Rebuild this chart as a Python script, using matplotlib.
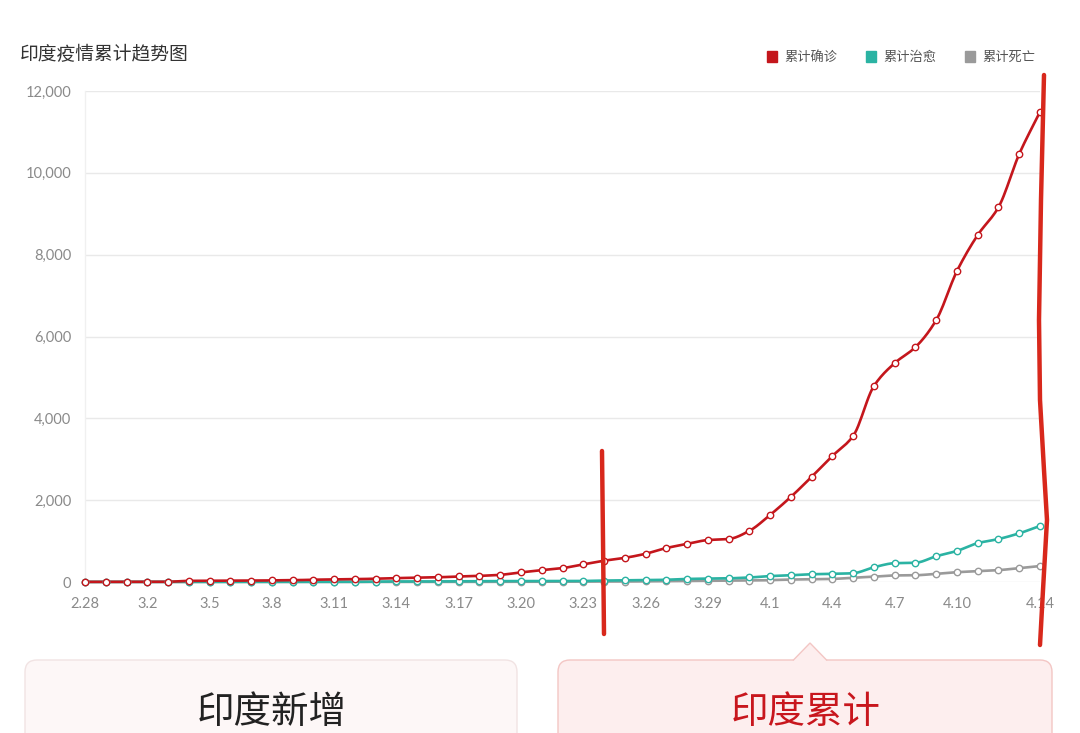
import matplotlib
matplotlib.use("Agg")
import matplotlib.pyplot as plt
import numpy as np
from matplotlib.patches import FancyBboxPatch, Polygon, Rectangle
from matplotlib.lines import Line2D

plt.rcParams['font.family'] = ['Noto Sans CJK SC', 'DejaVu Sans']

# ---------------- data ----------------
dates = ["2.28", "2.29"] + [f"3.{d}" for d in range(1, 32)] + [f"4.{d}" for d in range(1, 15)]

confirmed = [3, 3, 3, 5, 6, 28, 30, 31, 34, 39, 43, 56, 62, 70, 80, 95, 105, 115,
             135, 150, 175, 235, 290, 340, 430, 520, 590, 690, 830, 930, 1025, 1050,
             1250, 1640, 2080, 2570, 3080, 3570, 4790, 5350, 5740, 6400, 7600, 8480,
             9160, 10460, 11490]
recovered = [3, 3, 3, 3, 3, 3, 3, 3, 3, 4, 4, 4, 4, 4, 10, 13, 13, 14, 15, 20, 20,
             23, 23, 24, 25, 35, 40, 45, 55, 75, 80, 90, 110, 145, 165, 190, 200, 215,
             360, 460, 470, 630, 760, 950, 1050, 1190, 1370]
deaths = [0, 0, 0, 0, 0, 0, 0, 0, 0, 0, 0, 0, 1, 2, 2, 2, 2, 3, 3, 4, 4, 4, 7, 8,
          10, 10, 11, 16, 20, 24, 27, 32, 35, 45, 60, 66, 75, 105, 130, 160, 165,
          200, 240, 265, 290, 340, 390]

series_names = ["累计确诊", "累计治愈", "累计死亡"]
series_colors = ["#c4161c", "#2bb3a3", "#9a9a9a"]
series_values = [confirmed, recovered, deaths]

y_ticks = [0, 2000, 4000, 6000, 8000, 10000, 12000]
x_tick_idx = list(range(0, len(dates) - 4, 3)) + [len(dates) - 1]

title = "印度疫情累计趋势图"
card_left = "印度新增"
card_right = "印度累计"

# ---------------- helpers ----------------
def smooth_path(xs, ys, n=12):
    """Monotone cubic (Fritsch-Carlson) curve through the points, for drawing."""
    xs = np.asarray(xs, float)
    ys = np.asarray(ys, float)
    h = np.diff(xs)
    d = np.diff(ys) / h
    m = np.zeros_like(ys)
    m[0], m[-1] = d[0], d[-1]
    for i in range(1, len(ys) - 1):
        if d[i - 1] * d[i] <= 0:
            m[i] = 0
        else:
            m[i] = 2 / (1 / d[i - 1] + 1 / d[i])
    px, py = [], []
    for i in range(len(xs) - 1):
        t = np.linspace(0, 1, n, endpoint=False)
        h00 = 2 * t**3 - 3 * t**2 + 1
        h10 = t**3 - 2 * t**2 + t
        h01 = -2 * t**3 + 3 * t**2
        h11 = t**3 - t**2
        px.extend(xs[i] + t * h[i])
        py.extend(h00 * ys[i] + h10 * h[i] * m[i] + h01 * ys[i + 1] + h11 * h[i] * m[i + 1])
    px.append(xs[-1])
    py.append(ys[-1])
    return px, py

# ---------------- figure ----------------
W, H = 1080, 733
fig = plt.figure(figsize=(W / 100, H / 100), dpi=100)
fig.patch.set_facecolor("white")

def fx(px):
    return px / W

def fy(py):
    return 1 - py / H

ax = fig.add_axes([fx(85), fy(582), fx(1040) - fx(85), fy(91) - fy(582)])
ax.set_facecolor("white")
x = list(range(len(dates)))

for name, col, vals in reversed(list(zip(series_names, series_colors, series_values))):
    sx, sy = smooth_path(x, vals)
    ax.plot(sx, sy, color=col, lw=1.9, solid_joinstyle="round", zorder=3,
            clip_on=False)
    ax.plot(x, vals, linestyle="none", marker="o", markersize=4.6,
            markerfacecolor="white", markeredgecolor=col, markeredgewidth=1.0,
            zorder=4, clip_on=False)

ax.set_xlim(0, len(dates) - 1)
ax.set_ylim(0, 12000)
ax.set_yticks(y_ticks)
ax.set_yticklabels([f"{v:,}" for v in y_ticks], family=["Lato", "DejaVu Sans"],
                   fontsize=10.5, color="#8a8a8a")
ax.set_xticks(x_tick_idx)
ax.set_xticklabels([dates[i] for i in x_tick_idx], family=["Lato", "DejaVu Sans"],
                   fontsize=10.5, color="#8a8a8a")
ax.tick_params(axis="both", length=0)
ax.tick_params(axis="y", pad=10)
ax.tick_params(axis="x", pad=11)
ax.grid(axis="y", color="#e9e9e9", lw=1)
ax.set_axisbelow(True)
for s in ["top", "right", "bottom"]:
    ax.spines[s].set_visible(False)
ax.spines["left"].set_color("#f0f0f0")
ax.spines["left"].set_linewidth(1)

# title
fig.text(fx(20), fy(55), title, fontsize=13.5, color="#333333", va="center", ha="left")

# legend (manual)
leg_x = [772, 871, 970]
for lx, name, col in zip(leg_x, series_names, series_colors):
    fig.patches.append(Rectangle((fx(lx - 5), fy(61.5)), fx(10), fy(51.5) - fy(61.5),
                                 transform=fig.transFigure, color=col, figure=fig))
    fig.text(fx(lx + 12), fy(57), name, fontsize=9.5, color="#555555",
             va="center", ha="left")

# bottom cards
def add_card(x0, x1, ytop, face, edge):
    p = FancyBboxPatch((x0 / 100, -0.3), (x1 - x0) / 100, (H - ytop) / 100 + 0.3,
                       boxstyle="round,pad=0,rounding_size=0.12",
                       transform=fig.dpi_scale_trans, facecolor=face,
                       edgecolor=edge, lw=1.0, figure=fig)
    fig.patches.append(p)

add_card(25, 517, 660, "#fdf7f7", "#f1e3e3")
add_card(558, 1052, 660, "#fdeeee", "#f3c6c4")
fig.patches.append(Rectangle((fx(794), fy(662)), fx(32), fy(659) - fy(662),
                             transform=fig.transFigure, facecolor="#fdeeee",
                             edgecolor="none", figure=fig))
tri = Polygon([(fx(793), fy(660.5)), (fx(810), fy(643)), (fx(827), fy(660.5))],
              closed=False, transform=fig.transFigure, facecolor="#fdeeee",
              edgecolor="#f3c6c4", lw=1.0, figure=fig)
fig.patches.append(tri)

fig.text(fx(272), fy(713), card_left, fontsize=27, color="#222222",
         ha="center", va="center")
fig.text(fx(806), fy(713), card_right, fontsize=27, color="#c8161d",
         ha="center", va="center")

# hand-drawn red annotation marks
mark_col = "#d8281c"
fig.lines.append(Line2D([fx(602), fx(603), fx(604)], [fy(451), fy(540), fy(634)],
                        transform=fig.transFigure, color=mark_col, lw=3.2,
                        solid_capstyle="round", figure=fig))
fig.lines.append(Line2D([fx(1044), fx(1041), fx(1039), fx(1040), fx(1044), fx(1047),
                         fx(1043), fx(1040)],
                        [fy(75), fy(200), fy(320), fy(400), fy(470), fy(520),
                         fy(590), fy(645)],
                        transform=fig.transFigure, color=mark_col, lw=3.2,
                        solid_capstyle="round", figure=fig))

fig.savefig("out.png", dpi=100, facecolor="white")
